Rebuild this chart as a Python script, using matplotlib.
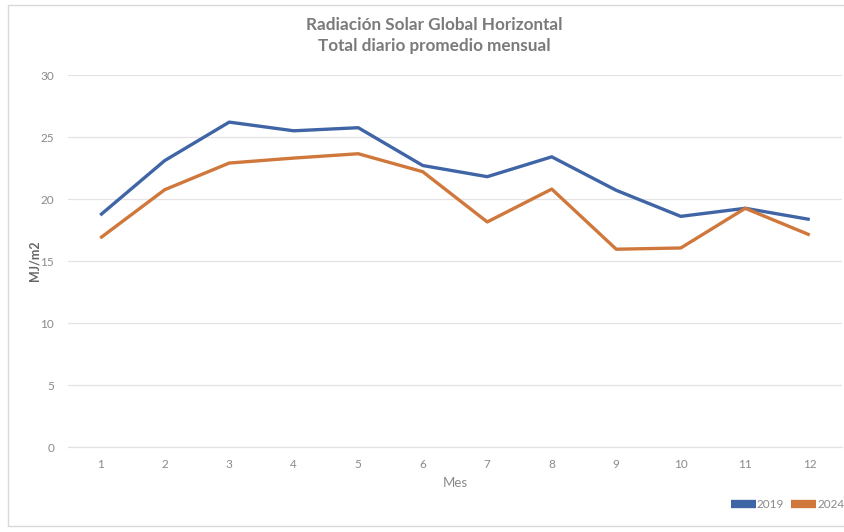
import matplotlib
matplotlib.use("Agg")
import matplotlib.pyplot as plt
from matplotlib.patches import Rectangle
from matplotlib.lines import Line2D

# Monthly average of daily total global horizontal irradiation (MJ/m2)
months = [1, 2, 3, 4, 5, 6, 7, 8, 9, 10, 11, 12]
month_labels = [str(m) for m in months]
rad_2019 = [18.7, 23.1, 26.2, 25.5, 25.75, 22.7, 21.8, 23.4, 20.7, 18.6, 19.25, 18.35]
rad_2024 = [16.85, 20.75, 22.9, 23.3, 23.65, 22.2, 18.15, 20.8, 15.95, 16.05, 19.25, 17.1]
series_names = ["2019", "2024"]
y_ticks = [0, 5, 10, 15, 20, 25, 30]

plt.rcParams["font.family"] = ["Lato", "DejaVu Sans"]

W, H = 845, 532
fig = plt.figure(figsize=(W / 100, H / 100), dpi=100)
fig.patch.set_facecolor("white")

# chart area frame
fig.add_artist(Rectangle((8 / W, 1 - 526 / H), (W + 20) / W, (526 - 5) / H,
                         transform=fig.transFigure, fill=False,
                         edgecolor="#D9D9D9", linewidth=1.0))

ax = fig.add_axes([68 / W, 1 - 447 / H, (842 - 68) / W, (447 - 75) / H])

colors = ["#3F65A6", "#D0783C"]
for vals, name, c in zip([rad_2019, rad_2024], series_names, colors):
    ax.plot(months, vals, color=c, linewidth=2.4, solid_joinstyle="round",
            solid_capstyle="butt", label=name, zorder=3)

ax.set_xlim(0.5, 12.5)
ax.set_ylim(0, 30)
ax.set_yticks(y_ticks)
ax.set_yticklabels([str(t) for t in y_ticks])
ax.set_xticks(months)
ax.set_xticklabels(month_labels)
ax.grid(axis="y", color="#E3E3E3", linewidth=0.9, zorder=0)
ax.set_axisbelow(True)
for s in ["top", "right", "left"]:
    ax.spines[s].set_visible(False)
ax.spines["bottom"].set_color("#E3E3E3")
ax.spines["bottom"].set_linewidth(0.9)
ax.tick_params(axis="both", length=0, labelsize=8.5, colors="#8A8A8A")
ax.tick_params(axis="y", pad=10)
ax.tick_params(axis="x", pad=9)

ax.set_xlabel("Mes", fontsize=9.5, color="#8A8A8A", labelpad=5)
ax.set_ylabel("MJ/m2", fontsize=9, color="#666666", fontweight="bold", labelpad=0)

title_x = 0.5 * (311 + 557) / W
fig.text(title_x, 1 - 25 / H, "Radiación Solar Global Horizontal",
         ha="center", va="center", fontsize=12.3, fontweight="bold", color="#7A7A7A")
fig.text(title_x, 1 - 46 / H, "Total diario promedio mensual",
         ha="center", va="center", fontsize=12.3, fontweight="bold", color="#7A7A7A")

handles = [Line2D([], [], color=c, linewidth=6, solid_capstyle="butt") for c in colors]
fig.legend(handles, series_names, loc="center right",
           bbox_to_anchor=(855 / W, 1 - 505 / H), frameon=False, ncol=2,
           fontsize=8.5, labelcolor="#8A8A8A", handlelength=2.1, handletextpad=0.1,
           columnspacing=0.6)

fig.savefig("out.png", dpi=100, facecolor="white")
